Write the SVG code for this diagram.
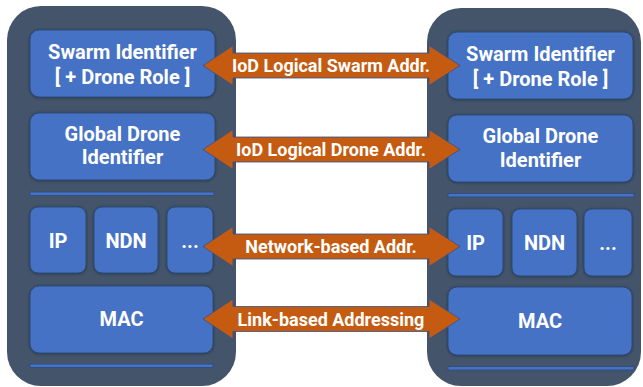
<svg xmlns="http://www.w3.org/2000/svg" width="643" height="387" viewBox="0 0 643 387">
  <style>
    .panel { fill: #44546A; }
    .box { fill: #4472C4; stroke: #2F4A78; stroke-width: 1; filter: url(#shade); }
    .bar { fill: #4472C4; stroke: #2F4A78; stroke-width: 0.8; }
    .lbl { fill: #FFFFFF; font-family: Roboto, "Liberation Sans", sans-serif; font-weight: bold; font-size: 20px; text-anchor: middle; }
    .arrow { fill: #C55A11; stroke: #2F528F; stroke-width: 0.8; }
    .alb { fill: #FFFFFF; font-family: Roboto, "Liberation Sans", sans-serif; font-weight: bold; font-size: 18px; text-anchor: middle; }
  </style>
  <defs>
    <filter id="shade" x="-10%" y="-10%" width="120%" height="130%">
      <feDropShadow dx="0" dy="0.5" stdDeviation="1.2" flood-color="#1F2A3A" flood-opacity="0.8"/>
    </filter>
    <!-- double-headed arrow centred at y=0 -->
    <polygon id="dbl" points="203,0 233,-20 233,-12.5 429,-12.5 429,-20 460,0 429,20 429,12.5 233,12.5 233,20"/>
  </defs>

  <rect width="643" height="387" fill="#FFFFFF"/>

  <!-- left stack -->
  <g id="stack-left">
    <rect class="panel" x="7" y="6" width="229" height="380" rx="34"/>
    <g id="left-swarm">
      <rect class="box" x="30" y="30" width="185" height="67" rx="9"/>
      <text class="lbl" x="122.5" y="59">Swarm Identifier</text>
      <text class="lbl" x="122.5" y="84">[ + Drone Role ]</text>
    </g>
    <g id="left-global">
      <rect class="box" x="30" y="113" width="185" height="67" rx="9"/>
      <text class="lbl" x="122.5" y="141">Global Drone</text>
      <text class="lbl" x="122.5" y="164">Identifier</text>
    </g>
    <rect class="bar" x="30" y="192" width="184" height="3.5"/>
    <g id="left-ip">
      <rect class="box" x="30" y="207" width="56" height="66" rx="8"/>
      <text class="lbl" x="58" y="248">IP</text>
    </g>
    <g id="left-ndn">
      <rect class="box" x="94" y="207" width="64" height="66" rx="8"/>
      <text class="lbl" x="126" y="248">NDN</text>
    </g>
    <g id="left-more">
      <rect class="box" x="167" y="207" width="46" height="66" rx="8"/>
      <text class="lbl" x="190" y="248">...</text>
    </g>
    <g id="left-mac">
      <rect class="box" x="30" y="286" width="183" height="67" rx="9"/>
      <text class="lbl" x="121.5" y="326">MAC</text>
    </g>
    <rect class="bar" x="30" y="364" width="183" height="3.5"/>
  </g>

  <!-- right stack -->
  <g id="stack-right">
    <rect class="panel" x="427" y="8" width="214" height="378" rx="34"/>
    <g id="right-swarm">
      <rect class="box" x="448" y="32" width="185" height="67" rx="9"/>
      <text class="lbl" x="540.5" y="61">Swarm Identifier</text>
      <text class="lbl" x="540.5" y="86">[ + Drone Role ]</text>
    </g>
    <g id="right-global">
      <rect class="box" x="448" y="115" width="185" height="67" rx="9"/>
      <text class="lbl" x="540.5" y="143">Global Drone</text>
      <text class="lbl" x="540.5" y="167">Identifier</text>
    </g>
    <rect class="bar" x="448" y="193.5" width="186" height="3.5"/>
    <g id="right-ip">
      <rect class="box" x="448" y="209" width="55" height="67" rx="8"/>
      <text class="lbl" x="475.5" y="250">IP</text>
    </g>
    <g id="right-ndn">
      <rect class="box" x="512" y="209" width="65" height="67" rx="8"/>
      <text class="lbl" x="544.5" y="250">NDN</text>
    </g>
    <g id="right-more">
      <rect class="box" x="584" y="209" width="48" height="67" rx="8"/>
      <text class="lbl" x="608" y="250">...</text>
    </g>
    <g id="right-mac">
      <rect class="box" x="448" y="287" width="184" height="68" rx="9"/>
      <text class="lbl" x="540" y="328">MAC</text>
    </g>
    <rect class="bar" x="448" y="366.5" width="186" height="3.5"/>
  </g>

  <!-- addressing links between the two stacks -->
  <g id="connectors">
    <use href="#dbl" class="arrow" y="65.5"/>
    <text class="alb" x="331" y="72">IoD Logical Swarm Addr.</text>
    <use href="#dbl" class="arrow" y="149.5"/>
    <text class="alb" x="331" y="156">IoD Logical Drone Addr.</text>
    <use href="#dbl" class="arrow" y="246.5"/>
    <text class="alb" x="331" y="253">Network-based Addr.</text>
    <use href="#dbl" class="arrow" y="319"/>
    <text class="alb" x="331" y="325.5">Link-based Addressing</text>
  </g>
</svg>
